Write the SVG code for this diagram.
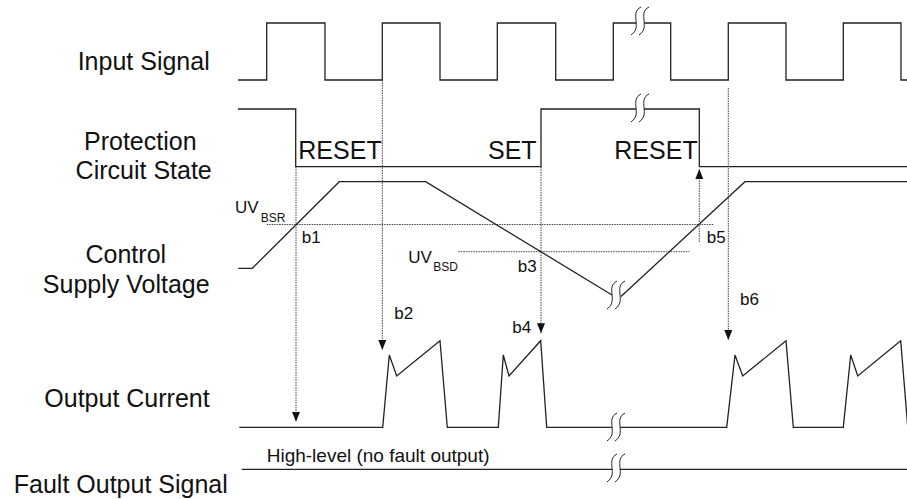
<svg xmlns="http://www.w3.org/2000/svg" width="907" height="499" viewBox="0 0 907 499">
<style>
.sig{fill:none;stroke:#222;stroke-width:1.3;stroke-linejoin:miter}
.dot{fill:none;stroke:#444;stroke-width:1;stroke-dasharray:1.5,1}
.lbl{font-family:"Liberation Sans",Arial,sans-serif;font-size:25px;fill:#111}
.sm{font-family:"Liberation Sans",Arial,sans-serif;font-size:17px;fill:#111}
.sub{font-family:"Liberation Sans",Arial,sans-serif;font-size:12px;fill:#111}
.brk{fill:#fff;stroke:none}
.brkl{fill:none;stroke:#222;stroke-width:1}
</style>
<defs>
<marker id="ah" viewBox="0 0 10 8" refX="10" refY="4" markerWidth="10" markerHeight="8" markerUnits="userSpaceOnUse" orient="auto">
<path d="M0,0 L10,4 L0,8 Z" fill="#111"/>
</marker>
<g id="brkSym">
<path class="brk" d="M3,-14 C-9,-8 5,6 -7,14 L1,14 C13,6 -1,-8 11,-14 Z"/>
<path class="brkl" d="M3,-14 C-9,-8 5,6 -7,14 M11,-14 C-1,-8 13,6 1,14"/>
</g>
</defs>
<rect width="907" height="499" fill="#fff"/>

<g id="labels">
<text class="lbl" x="143.7" y="70" text-anchor="middle">Input Signal</text>
<text class="lbl" x="140.3" y="150" text-anchor="middle">Protection</text>
<text class="lbl" x="143.7" y="179.3" text-anchor="middle">Circuit State</text>
<text class="lbl" x="125.8" y="262.7" text-anchor="middle">Control</text>
<text class="lbl" x="126.2" y="292.7" text-anchor="middle">Supply Voltage</text>
<text class="lbl" x="127" y="406.7" text-anchor="middle">Output Current</text>
<text class="lbl" x="120.8" y="493" text-anchor="middle">Fault Output Signal</text>
</g>

<g id="input-signal">
<path class="sig" d="M238,80 H266.7 V23 H325 V80 H382.3 V23 H440 V80 H497.3 V23 H555.7 V80 H613.3 V23 H670.7 V80 H728.3 V23 H786 V80 H843.3 V23 H901 V80 H908"/>
<use href="#brkSym" x="638" y="21"/>
</g>

<g id="protection-state">
<path class="sig" d="M238,109 H295.7 V166.7 H541 V109 H699.3 V166.7 H908"/>
<use href="#brkSym" x="638" y="108"/>
<text class="lbl" x="298.3" y="159.3">RESET</text>
<text class="lbl" x="488" y="159.3">SET</text>
<text class="lbl" x="614.3" y="159.3">RESET</text>
</g>

<g id="supply-voltage">
<path class="dot" d="M266.7,224.5 H713.3"/>
<path class="dot" d="M458.3,251.7 H689.3"/>
<path class="sig" d="M238.3,268.3 H252.3 L339.3,181.7 H425.7 L612,295"/>
<path class="sig" d="M621,296.5 L745,181.7 H908"/>
<use href="#brkSym" x="614" y="295"/>
<text class="sm" x="235" y="213.3">UV</text>
<text class="sub" x="260.7" y="222">BSR</text>
<text class="sm" x="408.3" y="262.7">UV</text>
<text class="sub" x="433.3" y="270.5">BSD</text>
</g>

<g id="output-current">
<path class="sig" d="M239.3,427.3 H382.7 L389.3,355 L396.7,376 L440,340.7 L447.3,427.3 H498.3 L503.3,355 L509,376 L540.7,340.7 L546.7,427.3 H726.7 L735,355 L742.7,376 L786,340.7 L793.3,427.3 H843.3 L850.7,355 L857.7,376 L900.7,340.7 L908,430"/>
<use href="#brkSym" x="614" y="427"/>
</g>

<g id="fault-output">
<path class="sig" d="M241.7,469.3 H908"/>
<use href="#brkSym" x="614" y="468"/>
<text class="sm" x="266.7" y="461.7" style="font-size:19px">High-level (no fault output)</text>
</g>

<g id="connectors">
<path class="dot" d="M296,167 V421.7" marker-end="url(#ah)"/>
<path class="dot" d="M382.3,80 V350" marker-end="url(#ah)"/>
<path class="dot" d="M541,167 V333.3" marker-end="url(#ah)"/>
<path class="dot" d="M699.3,242 V169" marker-end="url(#ah)"/>
<path class="dot" d="M728.3,88 V340" marker-end="url(#ah)"/>
<text class="sm" x="301.7" y="243.3">b1</text>
<text class="sm" x="394.3" y="319">b2</text>
<text class="sm" x="517.7" y="272.3">b3</text>
<text class="sm" x="512.3" y="332.7">b4</text>
<text class="sm" x="706.7" y="242.7">b5</text>
<text class="sm" x="740" y="305">b6</text>
</g>
</svg>
